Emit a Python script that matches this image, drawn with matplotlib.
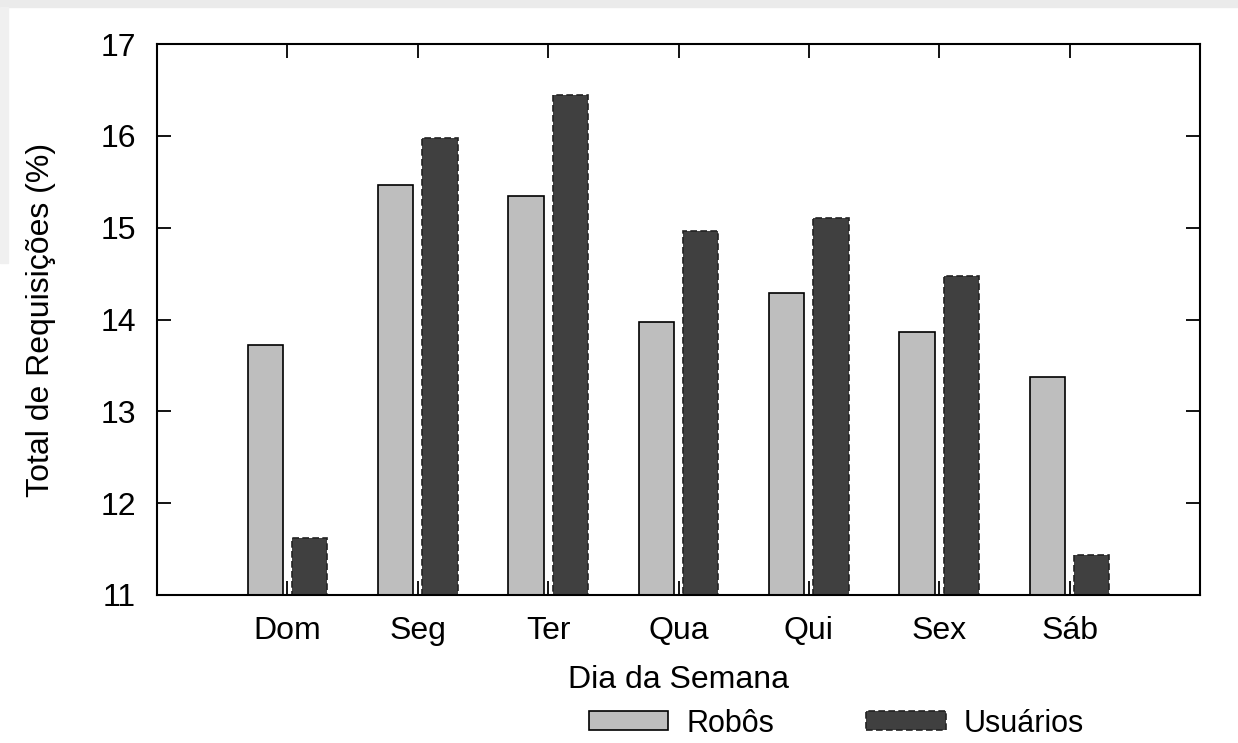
import matplotlib.pyplot as plt
import matplotlib.patches as mpatches
import numpy as np

plt.rcParams['font.family'] = ['Liberation Sans', 'DejaVu Sans']

dias = ['Dom', 'Seg', 'Ter', 'Qua', 'Qui', 'Sex', 'Sáb']
robos = [13.72, 15.46, 15.35, 13.97, 14.29, 13.86, 13.37]
usuarios = [11.62, 15.98, 16.45, 14.96, 15.11, 14.47, 11.44]

x = np.arange(len(dias))
w = 0.27

fig = plt.figure(figsize=(12.38, 7.43), dpi=100)
# borda cinza do print original
fig.patches.append(mpatches.Rectangle((0, 1 - 7 / 743), 1, 7 / 743, transform=fig.transFigure,
                                      color='#ebebeb', zorder=-10))
fig.patches.append(mpatches.Rectangle((0, 1 - 263 / 743), 8 / 1238, 256 / 743, transform=fig.transFigure,
                                      color='#f0f0f0', zorder=-10))

ax = fig.add_axes([157 / 1238, 1 - 595 / 743, (1200 - 157) / 1238, (595 - 44) / 743])

b1 = ax.bar(x - 0.17, robos, w, bottom=0, color='#bebebe', edgecolor='black', linewidth=1.2, label='Robôs')
b2 = ax.bar(x + 0.17, usuarios, w, bottom=0, color='#404040', edgecolor='#222222', linewidth=1.2,
            linestyle=(0, (4, 2)), label='Usuários')

ax.set_xlim(-1, 7)
ax.set_ylim(11, 17)
ax.set_xticks(x)
ax.set_xticklabels(dias)
ax.set_yticks(range(11, 18))

for s in ax.spines.values():
    s.set_linewidth(1.5)
ax.tick_params(direction='in', length=10, width=1.3, top=True, right=True, labelsize=23, pad=15)

ax.set_xlabel('Dia da Semana', fontsize=23, labelpad=14)
ax.set_ylabel('Total de Requisições (%)', fontsize=23, labelpad=32)

fig.legend(handles=[b1, b2], loc='lower left', bbox_to_anchor=(589 / 1238, 0.006), ncol=2, frameon=False,
           fontsize=22, handlelength=2.6, handleheight=0.6, handletextpad=0.6, columnspacing=3.0,
           borderpad=0.0, borderaxespad=0.0)

fig.savefig('out.png', dpi=100)
